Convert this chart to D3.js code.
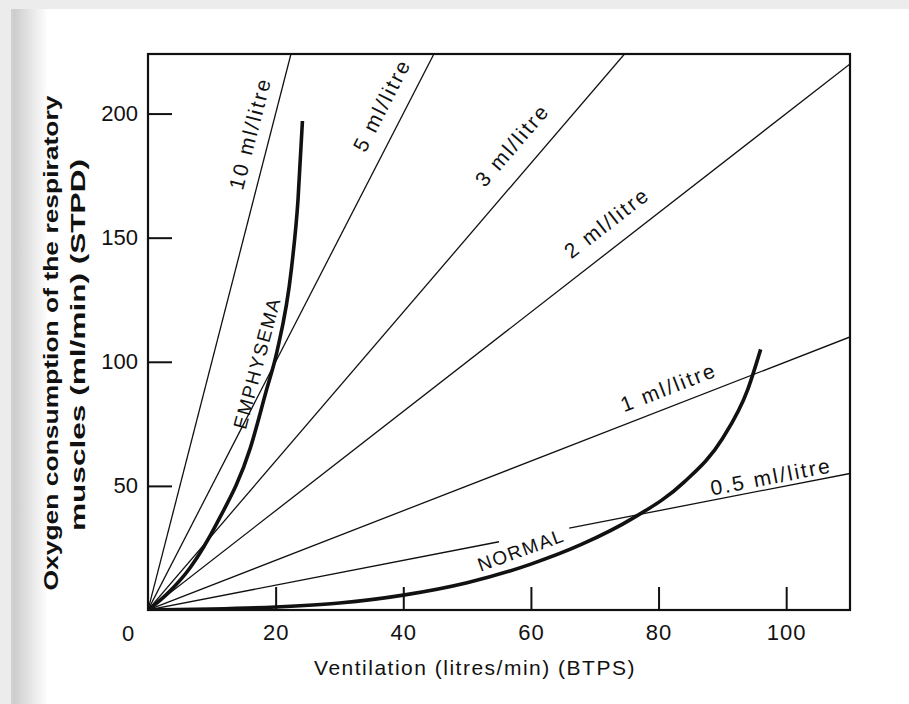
<!DOCTYPE html>
<html>
<head>
<meta charset="utf-8">
<script src="https://cdn.jsdelivr.net/npm/d3@7"></script>
<style>
  body { margin: 0; background: #fff; }
  svg { display: block; }
  text { font-family: "Liberation Sans", Arial, sans-serif; fill: #111; }
</style>
</head>
<body>
<svg id="chart" width="909" height="704"></svg>
<script>
// iso-cost lines, ml O2 per litre of ventilation
const rates = [10, 5, 3, 2, 1, 0.5]
const rateLabels = ["10 ml/litre", "5 ml/litre", "3 ml/litre", "2 ml/litre", "1 ml/litre", "0.5 ml/litre"]

// measured curves (ventilation, O2 consumption)
const emphysemaVent = [0, 3, 6.6, 10.8, 16, 18.5, 20.2, 22.5, 23.5, 24.2]
const emphysemaO2 = [0, 6.5, 17, 35, 65, 88, 104, 138, 165, 197]
const normalVent = [0, 10, 20, 30, 40, 50, 60, 68, 76, 84, 90, 94, 96]
const normalO2 = [0, 0.4, 1.2, 2.8, 6, 11, 18.5, 26.5, 37, 51.5, 69, 89, 105]

const xTicks = [20, 40, 60, 80, 100]
const yTicks = [50, 100, 150, 200]

const xMax = 110
const yMax = 224

// where each rate label sits: distance along its line (px) and offset off it (px)
const labelAlong = [487, 556, 590, 600, 566, 637]
const labelOffset = [20, 23, 26, 24, 19, 12]
const normalGap = [55, 66]   // 0.5 line is broken behind the NORMAL label

const svg = d3.select("#chart")

// scanned page edge
const grad = svg.append("defs").append("linearGradient").attr("id", "edge")
grad.append("stop").attr("offset", "0").attr("stop-color", "#e2e2e2")
grad.append("stop").attr("offset", "0.3").attr("stop-color", "#cdcdcd")
grad.append("stop").attr("offset", "1").attr("stop-color", "#ffffff")
svg.append("rect").attr("width", 909).attr("height", 704).attr("fill", "#fff")
svg.append("rect").attr("width", 909).attr("height", 9).attr("fill", "#ececec")
svg.append("rect").attr("y", 9).attr("width", 48).attr("height", 695).attr("fill", "url(#edge)")
svg.append("rect").attr("width", 11).attr("height", 704).attr("fill", "#ececec")

const x = d3.scaleLinear().domain([0, xMax]).range([148, 850])
const y = d3.scaleLinear().domain([0, yMax]).range([610, 54])

svg.select("defs").append("clipPath").attr("id", "plot")
    .append("rect")
    .attr("x", x(0)).attr("y", y(yMax))
    .attr("width", x(xMax) - x(0)).attr("height", y(0) - y(yMax))

const g = svg.append("g").attr("clip-path", "url(#plot)")

// rate lines
rates.forEach((k, i) => {
    let xEnd = Math.min(xMax, yMax / k)
    let segs = [[0, xEnd]]
    if (k === 0.5) segs = [[0, normalGap[0]], [normalGap[1], xEnd]]
    segs.forEach(s => {
        g.append("line")
            .attr("x1", x(s[0])).attr("y1", y(k * s[0]))
            .attr("x2", x(s[1])).attr("y2", y(k * s[1]))
            .attr("stroke", "#111")
            .attr("stroke-width", 1.3)
    })
})

const line = d3.line()
    .x(d => x(d[0]))
    .y(d => y(d[1]))
    .curve(d3.curveMonotoneX)

g.append("path")
    .datum(d3.zip(emphysemaVent, emphysemaO2))
    .attr("d", line)
    .attr("fill", "none")
    .attr("stroke", "#111")
    .attr("stroke-width", 3.6)

g.append("path")
    .datum(d3.zip(normalVent, normalO2))
    .attr("d", line)
    .attr("fill", "none")
    .attr("stroke", "#111")
    .attr("stroke-width", 3.6)

// rate labels, rotated with their line
rates.forEach((k, i) => {
    let dx = x(1) - x(0)
    let dy = y(0) - y(k)
    let th = Math.atan2(dy, dx)
    let cx = x(0) + labelAlong[i] * Math.cos(th) - labelOffset[i] * Math.sin(th)
    let cy = y(0) - labelAlong[i] * Math.sin(th) - labelOffset[i] * Math.cos(th)
    svg.append("text")
        .attr("transform", "translate(" + cx + "," + cy + ") rotate(" + (-th * 180 / Math.PI) + ")")
        .attr("text-anchor", "middle")
        .attr("dy", "0.35em")
        .attr("font-size", 21)
        .attr("letter-spacing", 2.2)
        .text(rateLabels[i])
})

svg.append("text")
    .attr("transform", "translate(257,363) rotate(-75)")
    .attr("text-anchor", "middle")
    .attr("dy", "0.35em")
    .attr("font-size", 19)
    .attr("letter-spacing", 1.6)
    .text("EMPHYSEMA")

svg.append("text")
    .attr("transform", "translate(521,550) rotate(-20)")
    .attr("text-anchor", "middle")
    .attr("dy", "0.35em")
    .attr("font-size", 19)
    .attr("letter-spacing", 1.6)
    .text("NORMAL")

// frame
svg.append("rect")
    .attr("x", x(0)).attr("y", y(yMax))
    .attr("width", x(xMax) - x(0)).attr("height", y(0) - y(yMax))
    .attr("fill", "none")
    .attr("stroke", "#111")
    .attr("stroke-width", 2.2)

// axes with inward ticks
const xAxis = svg.append("g")
    .attr("transform", "translate(0," + y(0) + ")")
    .call(d3.axisBottom(x).tickValues(xTicks).tickSize(-23).tickPadding(14))
const yAxis = svg.append("g")
    .attr("transform", "translate(" + x(0) + ",0)")
    .call(d3.axisLeft(y).tickValues(yTicks).tickSize(-24).tickPadding(10))

;[xAxis, yAxis].forEach(a => {
    a.select(".domain").remove()
    a.selectAll(".tick line").attr("stroke", "#111").attr("stroke-width", 2)
    a.selectAll(".tick text")
        .attr("font-family", "Liberation Sans, Arial, sans-serif")
        .attr("font-size", 22)
        .attr("fill", "#111")
})
xAxis.selectAll(".tick text").attr("letter-spacing", 1)

svg.append("text")
    .attr("x", x(0) - 20).attr("y", 641)
    .attr("text-anchor", "middle")
    .attr("font-size", 22)
    .text("0")

svg.append("text")
    .attr("x", 475).attr("y", 675)
    .attr("text-anchor", "middle")
    .attr("font-size", 21)
    .attr("letter-spacing", 1.5)
    .text("Ventilation (litres/min) (BTPS)")

svg.append("text")
    .attr("transform", "translate(58,343) rotate(-90)")
    .attr("text-anchor", "middle")
    .attr("font-size", 21)
    .attr("font-weight", "bold")
    .attr("fill", "#222")
    .attr("textLength", 495)
    .attr("lengthAdjust", "spacingAndGlyphs")
    .text("Oxygen consumption of the respiratory")

svg.append("text")
    .attr("transform", "translate(85,345) rotate(-90)")
    .attr("text-anchor", "middle")
    .attr("font-size", 21)
    .attr("font-weight", "bold")
    .attr("fill", "#222")
    .attr("textLength", 372)
    .attr("lengthAdjust", "spacingAndGlyphs")
    .text("muscles (ml/min) (STPD)")
</script>
</body>
</html>
